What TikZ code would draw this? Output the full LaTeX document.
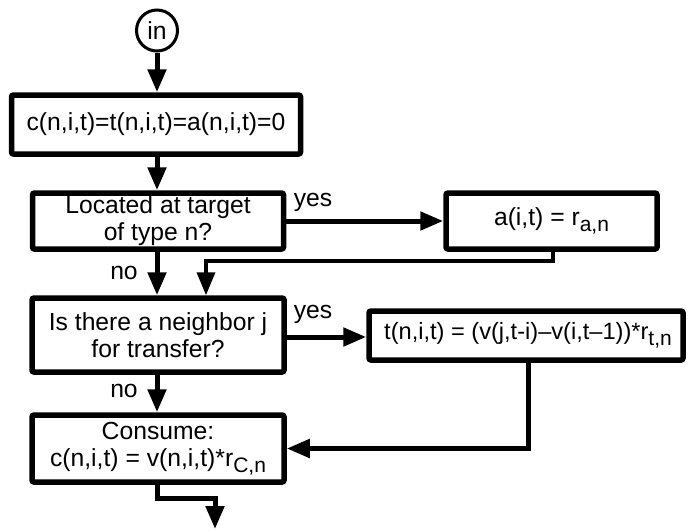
\documentclass[tikz,border=0pt]{standalone}
\usepackage{fontspec}
\setmainfont{Liberation Sans}
\usetikzlibrary{arrows.meta}

% lowered, slightly smaller index text
\newcommand\subtxt[1]{\raisebox{-6pt}{\fontsize{21}{21}\selectfont #1}}

\begin{document}
\begin{tikzpicture}[x=1pt,y=-1pt,
  txt/.style={font=\fontsize{24.7}{27}\selectfont},
  box/.style={txt, draw, line width=5.5pt, rectangle, rounded corners=2pt,
              inner sep=0pt, align=center},
  startnode/.style={txt, draw, circle, line width=3pt, inner sep=0pt,
              minimum size=41pt},
  flow/.style={line width=5pt, -{Triangle[length=23pt,width=18pt]}},
  thinflow/.style={line width=3.5pt, -{Triangle[length=23pt,width=18pt]}},
  lbl/.style={txt, inner sep=0pt}]

\fill[white] (0,0) rectangle (689,531);
\useasboundingbox (0,0) rectangle (689,531);

% start
\node[startnode] (in) at (157,30.5) {in};

% boxes
\node[box, minimum width=289pt, minimum height=59pt] (init) at (156,124.5)
  {c(n,i,t)=t(n,i,t)=a(n,i,t)=0};
\node[box, minimum width=251pt, minimum height=56pt] (target) at (158,221)
  {Located at target\\of type n?};
\node[box, minimum width=211pt, minimum height=56pt] (arrive) at (551.5,221)
  {a(i,t) = r\subtxt{a,n}};
\node[box, minimum width=252pt, minimum height=74pt] (neigh) at (158,335)
  {Is there a neighbor j\\for transfer?};
\node[box, minimum width=314pt, minimum height=49pt,
      font=\fontsize{23.6}{27}\selectfont] (transfer) at (526,335.5)
  {\hspace{4pt}t(n,i,t) = (v(j,t-i)–v(i,t–1))*r\subtxt{t,n}};
\node[box, minimum width=252pt, minimum height=67pt] (consume) at (158,448.5)
  {Consume:\\c(n,i,t) = v(n,i,t)*r\subtxt{C,n}};

% labels
\node[lbl] (yes1) at (313,202) {yes};
\node[lbl] (no1)  at (124,273) {no};
\node[lbl] (yes2) at (313,314) {yes};
\node[lbl] (no2)  at (124,391) {no};

% helper points for bends
\coordinate (col) at (157,0);
\coordinate (m1) at (206,261);
\coordinate (m2) at (528,448);
\coordinate (m3) at (157,498);
\coordinate (out) at (215,529);

% connectors
\draw[flow] (in) -- (init.north -| col);
\draw[flow] (init.south -| col) -- (target.north -| col);
\draw[flow] (target.east) -- (target.east -| arrive.west);
\draw[thinflow] (arrive.south -| 553,0) |- (m1) -- (m1 |- neigh.north);
\draw[flow] (target.south -| col) -- (neigh.north -| col);
\draw[flow] (neigh.east |- 0,337) -- (transfer.west |- 0,337);
\draw[flow] (transfer.south -| m2) |- (consume.east);
\draw[flow] (neigh.south -| col) -- (consume.north -| col);
\draw[flow] (consume.south -| col) -- (m3) -| (out);
\end{tikzpicture}
\end{document}
